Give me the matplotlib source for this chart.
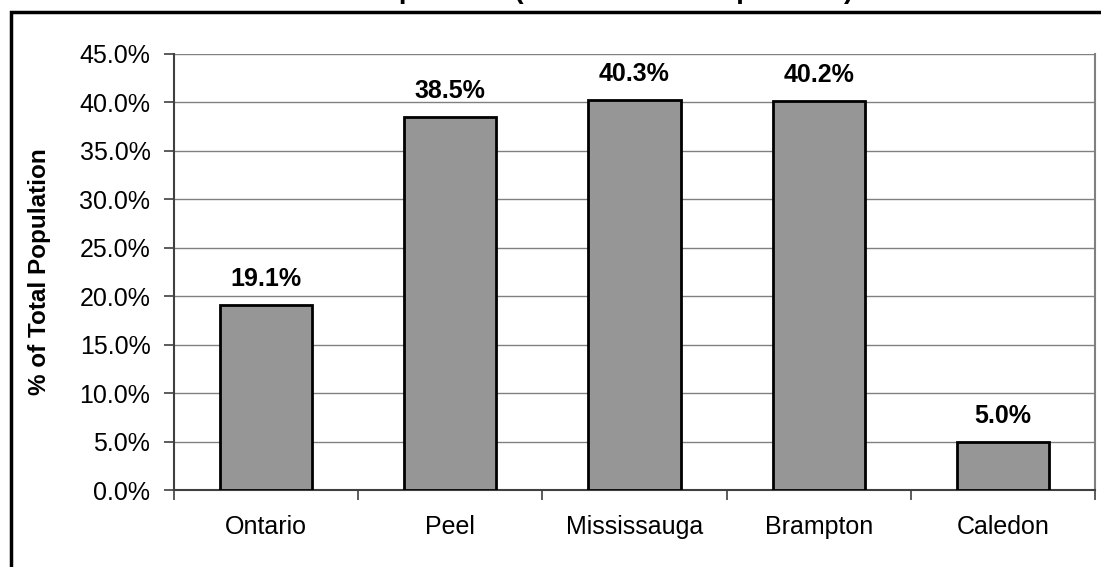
import matplotlib
matplotlib.use("Agg")
import matplotlib.pyplot as plt
from matplotlib.patches import Rectangle
from matplotlib.ticker import FixedLocator, FuncFormatter

categories = ["Ontario", "Peel", "Mississauga", "Brampton", "Caledon"]
values = [19.1, 38.5, 40.3, 40.2, 5.0]
yticks = [0, 5, 10, 15, 20, 25, 30, 35, 40, 45]
title = "Racialized Population (as % of Total Population)"
ylabel = "% of Total Population"

plt.rcParams['font.family'] = ['Liberation Sans', 'DejaVu Sans']

W, H = 1101, 567
fig = plt.figure(figsize=(W / 100, H / 100), dpi=100)
ax = fig.add_axes([174 / W, 1 - 490 / H, (1095 - 174) / W, (490 - 54) / H])

x = list(range(len(categories)))
ax.bar(x, values, width=0.5, color="#969696", edgecolor="black", linewidth=2, zorder=3)

for xi, v in zip(x, values):
    ax.annotate(f"{v:.1f}%", (xi, v), xytext=(0, 10), textcoords="offset points",
                ha="center", va="bottom", fontsize=18, fontweight="bold")

ax.set_xlim(-0.5, len(categories) - 0.5)
ax.set_ylim(0, 45)
ax.set_yticks(yticks)
ax.yaxis.set_major_formatter(FuncFormatter(lambda v, p: f"{v:.1f}%"))
ax.yaxis.grid(True, color="#808080", linewidth=1, zorder=0)
ax.set_axisbelow(True)

ax.set_xticks(x)
ax.set_xticklabels(categories)
ax.xaxis.set_minor_locator(FixedLocator([i - 0.5 for i in range(len(categories) + 1)]))
ax.tick_params(axis="x", which="major", length=0, pad=18, labelsize=18)
ax.tick_params(axis="x", which="minor", length=7, width=1.2, color="#404040", direction="out")
ax.tick_params(axis="y", which="major", length=7, width=1.2, color="#404040", pad=10, labelsize=18)

for side in ["left", "bottom"]:
    ax.spines[side].set_color("#404040")
    ax.spines[side].set_linewidth(1.5)
ax.spines["right"].set_color("#808080")
ax.spines["right"].set_linewidth(1.5)
ax.spines["top"].set_visible(False)

fig.text(40 / W, 1 - 272 / H, ylabel, rotation=90, ha="center", va="center",
         fontsize=17.5, fontweight="bold")

fig.text(537 / W, (H + 2) / H, title, ha="center", va="baseline",
         fontsize=20, fontweight="bold")

fig.patches.append(Rectangle((10.5 / W, -0.1), 1.2, (H - 12) / H + 0.1, transform=fig.transFigure,
                             fill=False, edgecolor="black", linewidth=2.5))

fig.savefig("out.png", dpi=100)
